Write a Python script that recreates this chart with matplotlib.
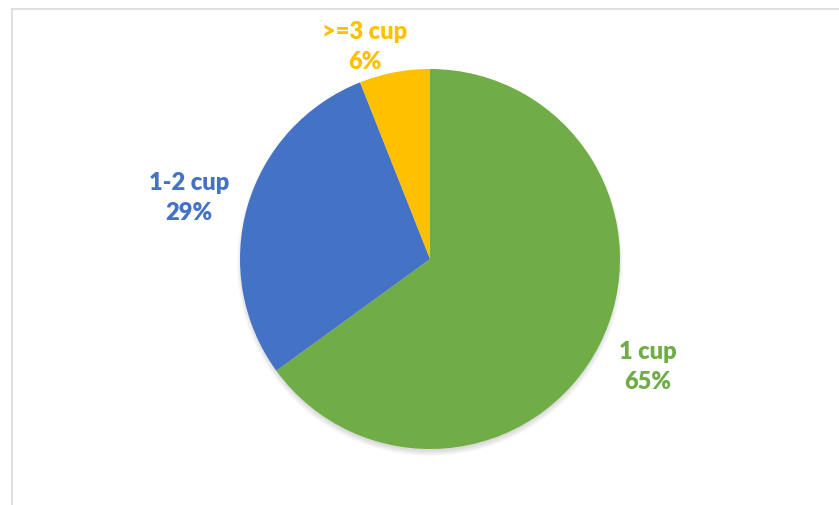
import matplotlib.pyplot as plt
from matplotlib.patches import Circle

# data
categories = ['1 cup', '1-2 cup', '>=3 cup']
shares = [65, 29, 6]
colors = ['#70AD47', '#4472C4', '#FFC000']

W, H = 839, 505
fig = plt.figure(figsize=(W / 100, H / 100), dpi=100)
ax = fig.add_axes([0, 0, 1, 1])

cx, cy, r = 430, H - 259, 190

# soft shadow under the pie
for k in range(6):
    ax.add_patch(Circle((cx, cy - 4), r - 2 + k * 1.0, color='black',
                        alpha=0.025, lw=0, zorder=0))

ax.pie(shares, colors=colors, startangle=90, counterclock=False,
       center=(cx, cy), radius=r, frame=True,
       wedgeprops=dict(linewidth=0))
ax.set_xlim(0, W)
ax.set_ylim(0, H)
ax.set_aspect('equal')
ax.axis('off')

# labels
label_pos = [(648, 367), (189, 198), (365, 47)]
for name, val, col, (x, y) in zip(categories, shares, colors, label_pos):
    ax.text(x, H - y, f'{name}\n{val}%', color=col, ha='center', va='center',
            fontsize=17, fontweight='heavy', family=['Lato', 'DejaVu Sans'],
            linespacing=1.42)

# chart border
fig.add_artist(plt.Line2D([11.5 / W, 1], [1 - 8.5 / H, 1 - 8.5 / H],
                          transform=fig.transFigure, color='#d9d9d9', lw=1.2))
fig.add_artist(plt.Line2D([11.5 / W, 11.5 / W], [0, 1 - 8.5 / H],
                          transform=fig.transFigure, color='#d9d9d9', lw=1.2))

fig.savefig('out.png', dpi=100)
